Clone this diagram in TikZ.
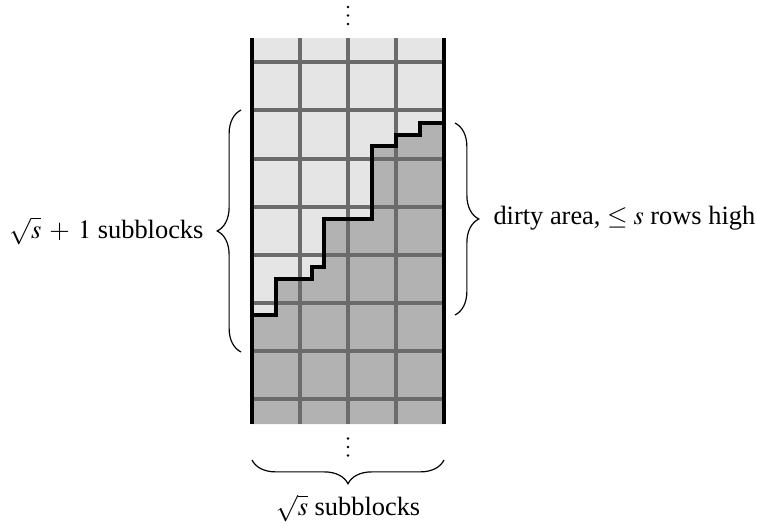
\documentclass[tikz,border=0pt]{standalone}
\usepackage{mathptmx}
\usepackage[no-math]{fontspec}
\setmainfont{Liberation Serif}
\usetikzlibrary{decorations.pathreplacing}
\begin{document}
\begin{tikzpicture}[x=0.378788pt,y=-0.378788pt,
  gridline/.style={draw=black!58,line width=1.3pt},
  border/.style={draw=black,line width=1.4pt},
  stair/.style={draw=black,line width=1.2pt,line join=miter},
  bracedeco/.style={draw=black,decorate,decoration={brace,amplitude=9pt},line width=0.45pt},
  vdot/.style={fill=black},
  lbl/.style={inner sep=0pt,font=\fontsize{10}{12}\selectfont}]
\useasboundingbox (0,0) rectangle (757,525);
% fills
\fill[black!10] (252,38) rectangle (444,424);
\fill[black!30] (444,123) -- (420,123) -- (420,135) -- (396,135) -- (396,146)
  -- (372,146) -- (372,219) -- (324,219) -- (324,267) -- (312,267) -- (312,279)
  -- (276,279) -- (276,315) -- (252,315) -- (252,424) -- (444,424) -- cycle;
% grid
\foreach \yy in {62,110,159,207,255,303,351,399}
  \draw[gridline] (252,\yy) -- (444,\yy);
\foreach \xx in {300,348,396}
  \draw[gridline] (\xx,38) -- (\xx,424);
\draw[border] (252,38) -- (252,424);
\draw[border] (444,38) -- (444,424);
% staircase
\draw[stair] (444,123) -- (420,123) -- (420,135) -- (396,135) -- (396,146)
  -- (372,146) -- (372,219) -- (324,219) -- (324,267) -- (312,267) -- (312,279)
  -- (276,279) -- (276,315) -- (252,315);
% dots
\foreach \yy in {7,15.5,24,438.5,447,455.5}
  \fill[vdot] (348,\yy) circle (1.4);
% braces
\coordinate (lb1) at (241,352);
\coordinate (lb2) at (241,110);
\coordinate (rb1) at (455,123);
\coordinate (rb2) at (455,315);
\coordinate (bb1) at (444,460);
\coordinate (bb2) at (252,460);
\draw[bracedeco] (lb1) -- (lb2);
\draw[bracedeco] (rb1) -- (rb2);
\draw[bracedeco] (bb1) -- (bb2);
% labels
\node[lbl,anchor=east] (ll) at (204,231) {$\sqrt{s}\mskip3mu+\mskip3mu1$ subblocks};
\node[lbl,anchor=west] (rl) at (493,218) {dirty area, $\leq s$ rows high};
\node[lbl,anchor=north] (bl) at (348,494) {$\sqrt{s}$ subblocks};
\end{tikzpicture}
\end{document}
